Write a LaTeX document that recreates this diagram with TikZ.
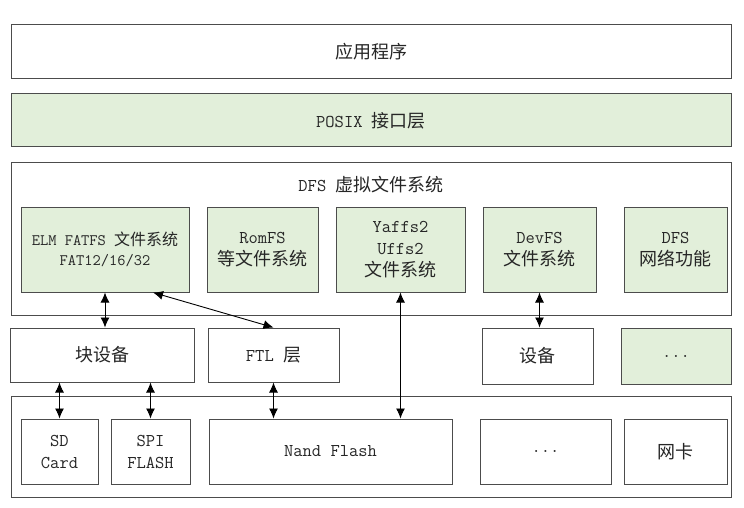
\documentclass[tikz,border=0pt]{standalone}
\usepackage{fontspec}
\newfontfamily\zhfont{Noto Sans CJK SC}[Scale=1.0]
\usepackage{tikz}
\usetikzlibrary{arrows.meta,positioning}
\definecolor{fsgreen}{HTML}{E2EFDA}
\tikzset{
  layerbox/.style = {rectangle, draw=black!70, line width=1pt,
                     fill=#1, inner sep=2pt, align=center,
                     text=black!85, font=\ttfamily\fontsize{18}{22}\selectfont},
  layerbox/.default= white,
  fsbox/.style    = {layerbox=fsgreen},
  framebox/.style = {rectangle, draw=black!70, line width=1pt,
                     inner sep=0pt},
  plaintext/.style= {text=black!85, font=\ttfamily\fontsize{18}{22}\selectfont},
  dualarrow/.style= {{Latex[length=10pt,width=9pt]}-{Latex[length=10pt,width=9pt]},
                     line width=0.9pt},
}

\begin{document}
\begin{tikzpicture}[x=1pt, y=-1pt]

  \path[use as bounding box, fill=white] (0,0) rectangle (744,508);

  %% ---- Top layers ----
  \node[layerbox, minimum width=720pt, minimum height=54pt]
        (app) at (371,52) {\zhfont 应用程序};
  \node[fsbox, minimum width=720pt, minimum height=53pt,
        below=14pt of app] (posix) {POSIX {\zhfont 接口层}};
  \node[framebox, minimum width=720pt, minimum height=153pt,
        below=14pt of posix] (dfs) {};
  \node[plaintext] (dfstitle) at ([yshift=-23pt]dfs.north)
        {DFS {\zhfont 虚拟文件系统}};

  %% ---- File systems ----
  \node[fsbox, minimum width=168pt, minimum height=85pt,
        font=\ttfamily\fontsize{16}{20}\selectfont]
        (elm) at (105,249.5) {ELM FATFS {\zhfont 文件系统}\\FAT12/16/32};
  \node[fsbox, minimum width=111pt, minimum height=85pt,
        right=17pt of elm]   (romfs)  {RomFS\\{\zhfont 等文件系统}};
  \node[fsbox, minimum width=129pt, minimum height=85pt,
        right=17pt of romfs] (yaffs)  {Yaffs2\\Uffs2\\{\zhfont 文件系统}};
  \node[fsbox, minimum width=113pt, minimum height=85pt,
        right=17pt of yaffs] (devfs)  {DevFS\\{\zhfont 文件系统}};
  \node[fsbox, minimum width=103pt, minimum height=85pt,
        right=27pt of devfs] (dfsnet) {DFS\\{\zhfont 网络功能}};

  %% ---- Device layer ----
  \node[layerbox, minimum width=184pt, minimum height=54pt]
        (blkdev) at (102,355) {\zhfont 块设备};
  \node[layerbox, minimum width=131pt, minimum height=54pt,
        right=13pt of blkdev] (ftl) {FTL {\zhfont 层}};
  \node[layerbox, minimum width=111pt, minimum height=56pt]
        (dev) at (537.5,356) {\zhfont 设备};
  \node[fsbox, minimum width=110pt, minimum height=56pt,
        right=27pt of dev] (more) {...};

  %% ---- Hardware ----
  \node[framebox, minimum width=720pt, minimum height=101pt]
        (hw) at (371,446.5) {};
  \node[layerbox, minimum width=77pt, minimum height=65pt]
        (sd) at (59.5,451.5) {SD\\Card};
  \node[layerbox, minimum width=79pt, minimum height=65pt,
        right=12pt of sd]     (spi)    {SPI\\FLASH};
  \node[layerbox, minimum width=243pt, minimum height=65pt,
        right=18pt of spi]    (nand)   {Nand Flash};
  \node[layerbox, minimum width=131pt, minimum height=65pt,
        right=27pt of nand]   (hwmore) {...};
  \node[layerbox, minimum width=103pt, minimum height=65pt,
        right=12pt of hwmore] (nic)    {\zhfont 网卡};

  %% ---- Arrows ----
  \draw[dualarrow] (elm.south) -- (elm.south |- blkdev.north);
  \draw[dualarrow] ([xshift=48pt]elm.south) -- (ftl.north);
  \draw[dualarrow] (yaffs.south) -- (yaffs.south |- nand.north);
  \draw[dualarrow] (devfs.south) -- (devfs.south |- dev.north);
  \draw[dualarrow] (sd.north |- blkdev.south) -- (sd.north);
  \draw[dualarrow] (spi.north |- blkdev.south) -- (spi.north);
  \draw[dualarrow] (ftl.south) -- (ftl.south |- nand.north);

\end{tikzpicture}
\end{document}
